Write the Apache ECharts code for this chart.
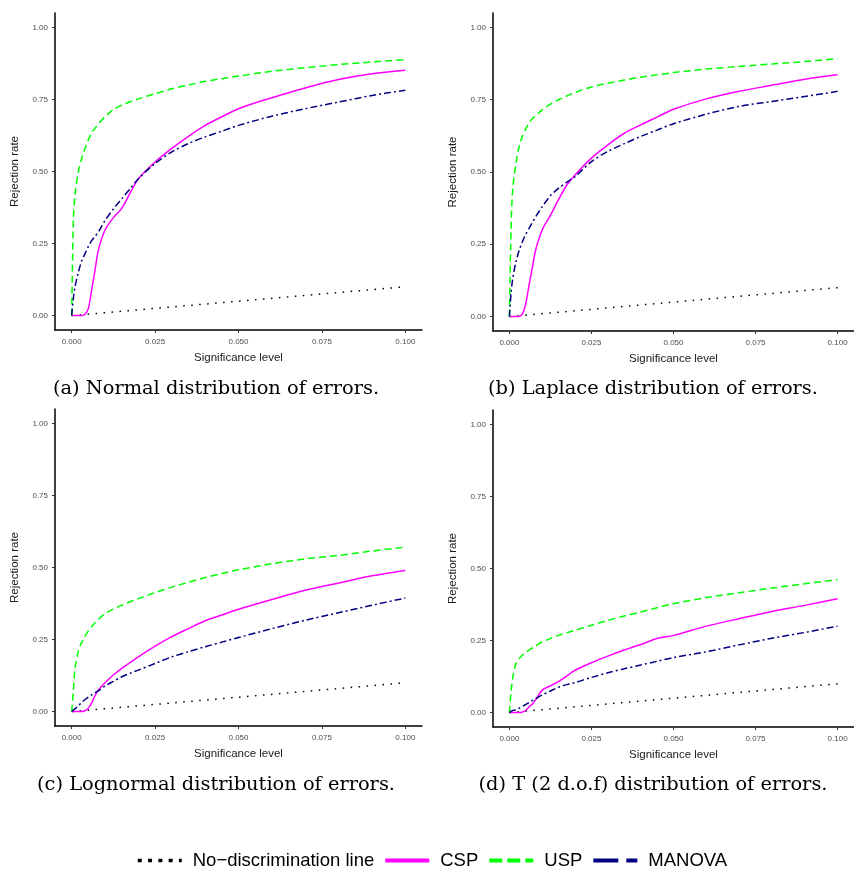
<!DOCTYPE html>
<html lang="en">
<head>
    <meta charset="UTF-8">
    <title>Rejection rate vs significance level</title>
    <script src="https://cdn.jsdelivr.net/npm/echarts@6/dist/echarts.min.js"></script>
    <style>
        html, body { margin: 0; padding: 0; background: #fff; }
        #main { width: 854px; height: 870px; }
    </style>
</head>
<body>
<div id="main"></div>
<script>
    // significance levels (shared by all panels)
    var sigLevels = [0, 0.0005, 0.001, 0.002, 0.003, 0.004, 0.005, 0.006, 0.007, 0.008, 0.01, 0.0125, 0.015,
        0.0175, 0.02, 0.025, 0.03, 0.035, 0.04, 0.045, 0.05, 0.06, 0.07, 0.08, 0.09, 0.1];
    var xTicks = [0, 0.025, 0.05, 0.075, 0.1];
    var yTicks = [0, 0.25, 0.5, 0.75, 1];
    var captions = ['(a) Normal distribution of errors.', '(b) Laplace distribution of errors.',
        '(c) Lognormal distribution of errors.', '(d) T (2 d.o.f) distribution of errors.'];
    var seriesNames = ['No\u2212discrimination line', 'CSP', 'USP', 'MANOVA'];

    // diagonal (no discrimination)
    var noDiscX = [0, 0.1];
    var noDiscY = [0, 0.1];

    // (a) normal
    var cspNormal = [0, 0, 0, 0, 0, 0.005, 0.025, 0.09, 0.158, 0.227, 0.297, 0.34, 0.372, 0.425, 0.475, 0.533, 0.58,
        0.622, 0.66, 0.69, 0.718, 0.756, 0.79, 0.819, 0.839, 0.851];
    var uspNormal = [0, 0.33, 0.42, 0.5, 0.545, 0.58, 0.61, 0.635, 0.65, 0.665, 0.69, 0.715, 0.73, 0.742, 0.752,
        0.77, 0.787, 0.8, 0.813, 0.822, 0.831, 0.848, 0.86, 0.871, 0.88, 0.888];
    var manovaNormal = [0, 0.06, 0.1, 0.15, 0.19, 0.215, 0.24, 0.26, 0.275, 0.29, 0.33, 0.37, 0.405, 0.44, 0.475,
        0.528, 0.568, 0.597, 0.62, 0.64, 0.66, 0.692, 0.718, 0.741, 0.764, 0.782];

    // (b) laplace
    var cspLaplace = [0, 0, 0, 0, 0, 0.01, 0.045, 0.11, 0.17, 0.23, 0.3, 0.35, 0.405, 0.455, 0.49, 0.548, 0.594,
        0.634, 0.663, 0.69, 0.717, 0.753, 0.779, 0.8, 0.821, 0.836];
    var uspLaplace = [0, 0.3, 0.44, 0.53, 0.59, 0.625, 0.65, 0.67, 0.685, 0.695, 0.715, 0.735, 0.75, 0.763, 0.775,
        0.794, 0.807, 0.818, 0.828, 0.836, 0.844, 0.856, 0.865, 0.874, 0.882, 0.892];
    var manovaLaplace = [0, 0.08, 0.13, 0.19, 0.23, 0.26, 0.285, 0.305, 0.325, 0.345, 0.38, 0.418, 0.444, 0.465,
        0.484, 0.536, 0.571, 0.598, 0.623, 0.645, 0.667, 0.7, 0.727, 0.744, 0.761, 0.779];

    // (c) lognormal
    var cspLognormal = [0, 0, 0, 0, 0, 0.003, 0.012, 0.03, 0.055, 0.075, 0.1, 0.127, 0.15, 0.17, 0.19, 0.227, 0.26,
        0.288, 0.315, 0.335, 0.355, 0.389, 0.421, 0.446, 0.471, 0.49];
    var uspLognormal = [0, 0.07, 0.15, 0.21, 0.24, 0.262, 0.28, 0.295, 0.308, 0.32, 0.34, 0.356, 0.369, 0.381, 0.392,
        0.413, 0.432, 0.449, 0.465, 0.479, 0.492, 0.513, 0.53, 0.542, 0.557, 0.571];
    var manovaLognormal = [0, 0.005, 0.01, 0.02, 0.032, 0.042, 0.05, 0.058, 0.065, 0.072, 0.089, 0.105, 0.121, 0.133,
        0.144, 0.167, 0.19, 0.208, 0.225, 0.241, 0.257, 0.288, 0.317, 0.343, 0.369, 0.394];

    // (d) t with 2 d.o.f
    var cspT2 = [0, 0, 0, 0, 0, 0.002, 0.008, 0.02, 0.03, 0.045, 0.078, 0.093, 0.108, 0.127, 0.147, 0.173, 0.196,
        0.217, 0.236, 0.257, 0.268, 0.3, 0.326, 0.351, 0.372, 0.395];
    var uspT2 = [0, 0.07, 0.12, 0.17, 0.188, 0.2, 0.21, 0.217, 0.225, 0.232, 0.245, 0.257, 0.268, 0.277, 0.286,
        0.303, 0.32, 0.335, 0.349, 0.364, 0.378, 0.399, 0.416, 0.432, 0.447, 0.462];
    var manovaT2 = [0, 0.004, 0.007, 0.01, 0.015, 0.022, 0.028, 0.035, 0.042, 0.048, 0.061, 0.075, 0.088, 0.097,
        0.104, 0.122, 0.138, 0.152, 0.165, 0.178, 0.191, 0.211, 0.235, 0.258, 0.278, 0.3];

    var panels = [
        {csp: cspNormal, usp: uspNormal, manova: manovaNormal},
        {csp: cspLaplace, usp: uspLaplace, manova: manovaLaplace},
        {csp: cspLognormal, usp: uspLognormal, manova: manovaLognormal},
        {csp: cspT2, usp: uspT2, manova: manovaT2}
    ];

    // panel boxes (axis line positions)
    var boxes = [
        {left: 55, top: 13, w: 367, h: 317},
        {left: 493, top: 13, w: 367, h: 318},
        {left: 55, top: 409, w: 367, h: 317},
        {left: 493, top: 410, w: 367, h: 317}
    ];
    // caption centres
    var capCentres = [[216, 389], [653, 389], [216, 785], [653, 785]];

    function pairs(xs, ys) {
        var out = [];
        for (var i = 0; i < xs.length; i++) out.push([xs[i], ys[i]]);
        return out;
    }

    var grids = [], xAxes = [], yAxes = [], series = [];
    var tickLabelStyle = {color: '#4d4d4d', fontSize: 8, fontFamily: 'Liberation Sans'};
    var nameStyle = {color: '#1a1a1a', fontSize: 11.5, fontFamily: 'Liberation Sans'};

    boxes.forEach(function (b, i) {
        grids.push({left: b.left, top: b.top, width: b.w, height: b.h, containLabel: false});
        xAxes.push({
            type: 'value', gridIndex: i, min: -0.005, max: 0.105,
            name: 'Significance level', nameLocation: 'middle', nameGap: 22, nameTextStyle: nameStyle,
            axisLine: {show: true, onZero: false, lineStyle: {color: '#000', width: 1.5}},
            axisTick: {show: true, length: 3, lineStyle: {color: '#333'}, customValues: xTicks},
            axisLabel: Object.assign({margin: 8, customValues: xTicks, formatter: function (v) { return v.toFixed(3); }}, tickLabelStyle),
            splitLine: {show: false}
        });
        yAxes.push({
            type: 'value', gridIndex: i, min: -0.05, max: 1.05,
            name: 'Rejection rate', nameLocation: 'middle', nameGap: 34, nameTextStyle: nameStyle,
            axisLine: {show: true, onZero: false, lineStyle: {color: '#000', width: 1.5}},
            axisTick: {show: true, length: 3, lineStyle: {color: '#333'}, customValues: yTicks},
            axisLabel: Object.assign({margin: 7, customValues: yTicks, formatter: function (v) { return v.toFixed(2); }}, tickLabelStyle),
            splitLine: {show: false}
        });

        var p = panels[i];
        series.push({
            name: seriesNames[0], type: 'line', xAxisIndex: i, yAxisIndex: i, symbol: 'none',
            data: pairs(noDiscX, noDiscY),
            lineStyle: {color: '#000', width: 1.5, type: [1.5, 6.5]}, itemStyle: {color: '#000'}
        });
        series.push({
            name: seriesNames[1], type: 'line', xAxisIndex: i, yAxisIndex: i, symbol: 'none',
            smooth: 0.3, data: pairs(sigLevels, p.csp),
            lineStyle: {color: '#ff00ff', width: 1.5}, itemStyle: {color: '#ff00ff'}
        });
        series.push({
            name: seriesNames[2], type: 'line', xAxisIndex: i, yAxisIndex: i, symbol: 'none',
            smooth: 0.3, data: pairs(sigLevels, p.usp),
            lineStyle: {color: '#00ff00', width: 1.5, type: [7, 4]}, itemStyle: {color: '#00ff00'}
        });
        series.push({
            name: seriesNames[3], type: 'line', xAxisIndex: i, yAxisIndex: i, symbol: 'none',
            smooth: 0.3, data: pairs(sigLevels, p.manova),
            lineStyle: {color: '#000080', width: 1.5, type: [7, 3, 2, 3]}, itemStyle: {color: '#000080'}
        });
    });

    var graphics = capCentres.map(function (c, i) {
        return {
            type: 'text', x: c[0], y: c[1],
            style: {text: captions[i], fill: '#000', font: '19.4px "DejaVu Serif"', align: 'center', verticalAlign: 'middle'}
        };
    });

    var chart = echarts.init(document.getElementById('main'), null, {renderer: 'canvas'});
    chart.setOption({
        animation: false,
        backgroundColor: '#fff',
        grid: grids,
        xAxis: xAxes,
        yAxis: yAxes,
        series: series,
        graphic: graphics,
        legend: {
            left: 136, top: 851, padding: 0, itemWidth: 44, itemHeight: 14, itemGap: 9,
            itemStyle: {opacity: 0, color: 'rgba(0,0,0,0)', borderWidth: 0},
            textStyle: {fontSize: 18.5, color: '#000', fontFamily: 'Liberation Sans', padding: [0, 0, 0, 6]},
            data: [
                {name: seriesNames[0], lineStyle: {width: 3.5, type: [4, 6.3], color: '#000'}},
                {name: seriesNames[1], lineStyle: {width: 4, color: '#ff00ff'}},
                {name: seriesNames[2], lineStyle: {width: 4, type: [13, 5], color: '#00ff00'}},
                {name: seriesNames[3], lineStyle: {width: 4, type: [25, 8], color: '#000080'}}
            ]
        }
    });
</script>
</body>
</html>
